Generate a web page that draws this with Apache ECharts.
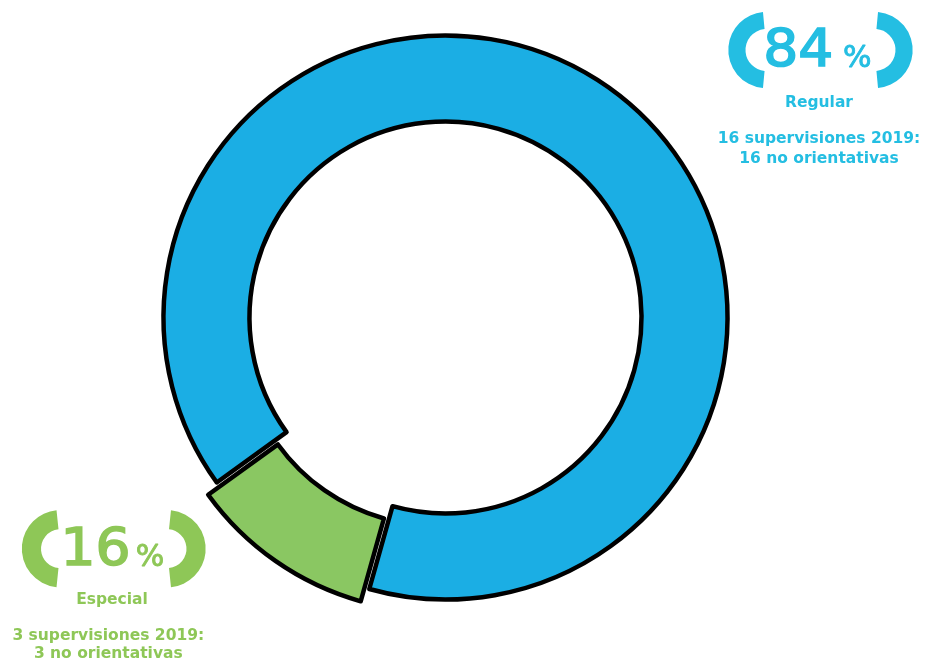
<!DOCTYPE html>
<html>
<head>
<meta charset="utf-8">
<script src="https://cdn.jsdelivr.net/npm/echarts@6/dist/echarts.min.js"></script>
<style>
  html, body { margin: 0; padding: 0; background: #ffffff; }
  #chart { width: 926px; height: 663px; }
</style>
</head>
<body>
<div id="chart"></div>
<script>
// ---- data ----
const categories = ['Regular', 'Especial'];
const ringShare = [89.3, 10.7];          // share of the ring each arc covers, as drawn
const percentLabels = ['84', '16'];      // printed percentages
const detailLines = [
  ['16 supervisiones 2019:', '16 no orientativas'],
  ['3 supervisiones 2019:', '3 no orientativas']
];
const fillColors = ['#1BAEE4', '#8AC762'];
const textColors = ['#24BEE2', '#8EC757'];

// ---- chart ----
const chart = echarts.init(document.getElementById('chart'), null, { renderer: 'canvas' });

const pieData = categories.map((name, i) => ({
  name: name,
  value: ringShare[i],
  selected: i === 1,
  itemStyle: { color: fillColors[i] }
}));

function bracketPair(cxL, cxR, cy, r, r0, delta, color) {
  const d = delta * Math.PI / 180;
  return [
    { type: 'sector', silent: true,
      shape: { cx: cxL, cy: cy, r: r, r0: r0, startAngle: Math.PI / 2 + d, endAngle: 3 * Math.PI / 2 - d, clockwise: true },
      style: { fill: color } },
    { type: 'sector', silent: true,
      shape: { cx: cxR, cy: cy, r: r, r0: r0, startAngle: -Math.PI / 2 + d, endAngle: Math.PI / 2 - d, clockwise: true },
      style: { fill: color } }
  ];
}

function txt(x, y, text, size, weight, color, align, scaleX, strokeW) {
  const style = {
    text: text, fill: color, align: align || 'center', verticalAlign: 'middle',
    font: weight + ' ' + size + 'px "DejaVu Sans"'
  };
  if (strokeW) { style.stroke = color; style.lineWidth = strokeW; }
  return { type: 'text', silent: true, x: x, y: y, scaleX: scaleX || 1, style: style };
}

const graphics = []
  // top-right label (Regular)
  .concat(bracketPair(766.5, 874.5, 50, 38.2, 21, 5.3, textColors[0]))
  .concat([
    txt(798.3, 53.2, percentLabels[0], 51, 'normal', textColors[0], 'center', 1.08, 1.6),
    txt(857.2, 59.4, '%', 30, 'normal', textColors[0], 'center', 1, 0.9),
    txt(819, 102.6, categories[0], 15.5, 'bold', textColors[0]),
    txt(819, 138.5, detailLines[0][0], 15.5, 'bold', textColors[0]),
    txt(819, 158.5, detailLines[0][1], 15.5, 'bold', textColors[0])
  ])
  // bottom-left label (Especial)
  .concat(bracketPair(60.5, 167, 548.7, 38.7, 19.5, 5.9, textColors[1]))
  .concat([
    txt(95.5, 551.6, percentLabels[1], 51, 'normal', textColors[1], 'center', 1.08, 1.6),
    txt(150, 557.8, '%', 30, 'normal', textColors[1], 'center', 1, 0.9),
    txt(112, 600.2, categories[1], 15.5, 'bold', textColors[1]),
    txt(108.3, 636, detailLines[1][0], 15.5, 'bold', textColors[1]),
    txt(108.3, 653.5, detailLines[1][1], 15.5, 'bold', textColors[1])
  ]);

chart.setOption({
  animation: false,
  backgroundColor: '#ffffff',
  series: [{
    type: 'pie',
    center: [445.5, 317.5],
    radius: [196, 282],
    startAngle: 215.8,
    clockwise: true,
    selectedMode: 'single',
    selectedOffset: 15,
    silent: true,
    label: { show: false },
    labelLine: { show: false },
    emphasis: { disabled: true, scale: false },
    itemStyle: { borderColor: '#000000', borderWidth: 4.5 },
    data: pieData
  }],
  graphic: graphics
});
</script>
</body>
</html>
